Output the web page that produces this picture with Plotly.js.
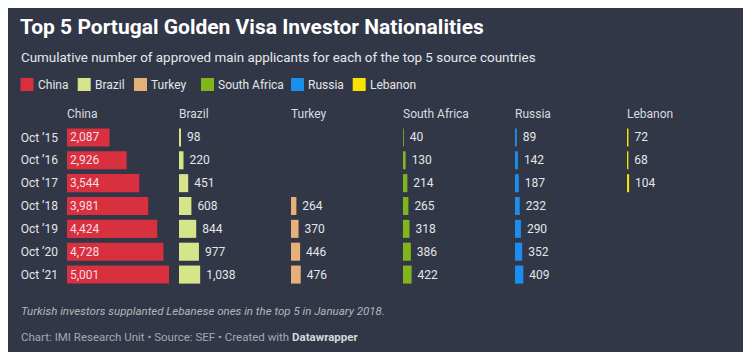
<!DOCTYPE html>
<html><head><meta charset="utf-8">
<script src="https://cdn.plot.ly/plotly-3.0.1.min.js"></script>
<style>
html,body{margin:0;padding:0;background:#fff;width:750px;height:357px;overflow:hidden}
#panel{position:absolute;left:8px;top:8px;width:735px;height:344px;background:#313746}
#chart{width:735px;height:344px}
</style></head><body>
<div id="panel"><div id="chart"></div></div>
<script>
// ---- data ----
const periods = ["Oct ’15","Oct ’16","Oct ’17","Oct ’18","Oct ’19","Oct ’20","Oct ’21"];
const countries = ["China","Brazil","Turkey","South Africa","Russia","Lebanon"];
const china = [2087,2926,3544,3981,4424,4728,5001];
const brazil = [98,220,451,608,844,977,1038];
const turkey = [null,null,null,264,370,446,476];
const southAfrica = [40,130,214,265,318,386,422];
const russia = [89,142,187,232,290,352,409];
const lebanon = [72,68,104,null,null,null,null];
const seriesValues = [china,brazil,turkey,southAfrica,russia,lebanon];
const noteText = "Turkish investors supplanted Lebanese ones in the top 5 in January 2018.";
const titleText = "Top 5 Portugal Golden Visa Investor Nationalities";
const subtitleText = "Cumulative number of approved main applicants for each of the top 5 source countries";

// ---- styles / layout ----
const colors = ["#d8303e","#d6e48a","#e6b07a","#80b51b","#1a8ff0","#f7e200"];
const FONT = "Roboto, 'Open Sans', sans-serif";
const W = 735, H = 344;
const L = 59, R = 14, T = 118, B = 66;
const PW = W - L - R, PH = H - T - B;
const colStep = 112, colW = 102;
const px = x => (x - L) / PW;
const py = y => 1 - (y - T) / PH;
const maxVal = 5001;

const traces = [];
const layout = {
  width: W, height: H,
  margin: {l: L, r: R, t: T, b: B, pad: 0},
  paper_bgcolor: "rgba(0,0,0,0)",
  plot_bgcolor: "rgba(0,0,0,0)",
  font: {family: FONT, size: 12, color: "#e4e6ea"},
  showlegend: false,
  bargap: 0.21,
  title: {
    text: titleText,
    font: {family: FONT, size: 21, weight: 700, color: "#ffffff"},
    xref: "container", yref: "container",
    x: 12 / W, xanchor: "left",
    y: 1 - 18.5 / H, yanchor: "middle"
  },
  yaxis: {
    type: "category", range: [6.5, -0.5], anchor: "x",
    showgrid: false, zeroline: false, showline: false, ticks: "",
    tickfont: {family: FONT, size: 12, color: "#e4e6ea"},
    ticklabelstandoff: 8
  },
  annotations: [],
  shapes: []
};

seriesValues.forEach((vals, i) => {
  const ax = i === 0 ? "" : String(i + 1);
  const start = (colStep * i) / PW;
  const end = (colStep * i + colW) / PW;
  layout["xaxis" + ax] = {
    domain: [start, Math.min(end, 1)], range: [0, maxVal], anchor: "y",
    showgrid: false, zeroline: false, showline: false, showticklabels: false, ticks: "",
    fixedrange: true
  };
  const isChina = i === 0;
  traces.push({
    type: "bar", orientation: "h",
    x: vals, y: periods,
    xaxis: "x" + ax, yaxis: "y",
    marker: {color: colors[i], line: {width: 0}},
    texttemplate: isChina ? "%{x:,}" : " %{x:,}",
    textposition: isChina ? "inside" : "outside",
    insidetextanchor: "start",
    constraintext: "none",
    cliponaxis: false,
    insidetextfont: {family: FONT, size: 12, color: "#f6dfe2"},
    outsidetextfont: {family: FONT, size: 12, color: "#e4e6ea"},
    hoverinfo: "skip"
  });
  // column header
  layout.annotations.push({
    text: countries[i], xref: "x" + ax + " domain", yref: "paper",
    x: 0, y: py(106), xanchor: "left", yanchor: "middle", showarrow: false,
    xshift: -2,
    font: {family: FONT, size: 12, color: "#d9dbe0"}
  });
});

// subtitle
layout.annotations.push({
  text: subtitleText, xref: "paper", yref: "paper",
  x: px(11), y: py(49.5), xanchor: "left", yanchor: "middle", showarrow: false,
  font: {family: FONT, size: 13.4, color: "#e8e9ec"}
});

// legend
const legendX = [12.5, 69.7, 126, 193, 283, 344.7];
countries.forEach((c, i) => {
  const x0 = legendX[i];
  layout.shapes.push({
    type: "rect", xref: "paper", yref: "paper", layer: "above",
    x0: px(x0), x1: px(x0 + 13), y0: py(76.5 - 6.5), y1: py(76.5 + 6.5),
    fillcolor: colors[i], line: {width: 0}
  });
  layout.annotations.push({
    text: c, xref: "paper", yref: "paper",
    x: px(x0 + 15), y: py(76.5), xanchor: "left", yanchor: "middle", showarrow: false,
    font: {family: FONT, size: 12, color: "#e4e6ea"}
  });
});

// note
layout.annotations.push({
  text: "<i>" + noteText + "</i>", xref: "paper", yref: "paper",
  x: px(11), y: py(303), xanchor: "left", yanchor: "middle", showarrow: false,
  font: {family: FONT, size: 11.5, color: "#b3b6bd"}
});
// footer
layout.annotations.push({
  text: "Chart: IMI Research Unit • Source: SEF • Created with <b><span style='color:#d5d7db'>Datawrapper</span></b>",
  xref: "paper", yref: "paper",
  x: px(11), y: py(329), xanchor: "left", yanchor: "middle", showarrow: false,
  font: {family: FONT, size: 11.5, color: "#a5a9b1"}
});

Plotly.newPlot("chart", traces, layout, {displayModeBar: false, staticPlot: true});
</script>
</body></html>
